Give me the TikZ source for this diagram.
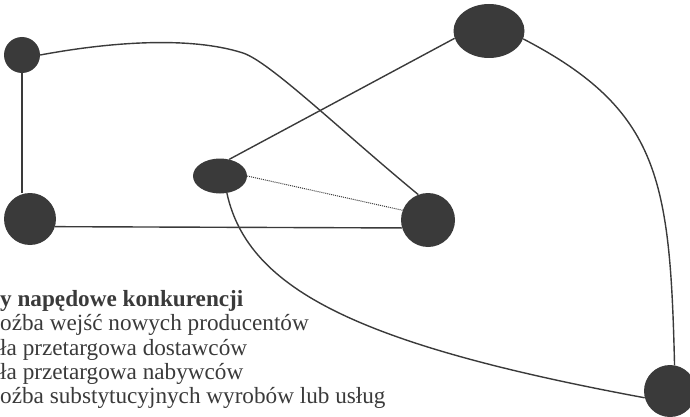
\documentclass[tikz,border=0pt]{standalone}
\usepackage{fontspec}
\setmainfont{Liberation Serif}
\usetikzlibrary{shapes.geometric}
\definecolor{ciemny}{RGB}{58,58,58}

\begin{document}
\begin{tikzpicture}[x=1pt,y=-1pt]
  \tikzset{k/.style={circle,fill=ciemny,inner sep=0pt}}
  \tikzset{el/.style={ellipse,fill=ciemny,inner sep=0pt}}
  \tikzset{linia/.style={draw=ciemny,line width=1.4pt}}
  \tikzset{opis/.style={anchor=base west,inner sep=0pt,text=ciemny,font=\fontsize{23.2}{24}\selectfont}}
  \useasboundingbox (0,0) rectangle (690,417);
  % wezly
  \node[k,minimum size=36pt] (lg) at (22,55) {};
  \node[k,minimum size=52pt] (ld) at (30,219) {};
  \node[el,minimum width=54pt,minimum height=35pt] (sr) at (220,176) {};
  \node[k,minimum size=54pt] (pr) at (428,220) {};
  \node[el,minimum width=71pt,minimum height=54pt] (gr) at (489,31) {};
  \node[k,minimum size=52pt] (dl) at (670,391) {};
  % polaczenia
  \draw[linia] (lg.south) -- (lg.south |- ld.100);
  \draw[linia] (ld.-17) -- (pr.197);
  \draw[linia] (lg.east) .. controls (110,42) and (190,36) .. (243,53)
    .. controls (270,62) and (340,130) .. (pr.111);
  \draw[linia] (sr.61) -- (gr.192);
  \draw[draw=ciemny,line width=1pt,densely dotted] (sr.east) -- (pr.159);
  \draw[linia] (sr.-68) .. controls (248,290) and (360,345) .. (dl.195);
  \draw[linia] (gr.-13) .. controls (660,110) and (670,180) .. (dl.80);
  % legenda
  \node[opis,font=\fontsize{23.2}{24}\selectfont\bfseries] (naglowek) at (0,306) {y napędowe konkurencji};
  \node[opis] (t1) at (0,330) {oźba wejść nowych producentów};
  \node[opis] (t2) at (0,355) {ła przetargowa dostawców};
  \node[opis] (t3) at (0,379) {ła przetargowa nabywców};
  \node[opis] (t4) at (0,403) {oźba substytucyjnych wyrobów lub usług};
\end{tikzpicture}
\end{document}
